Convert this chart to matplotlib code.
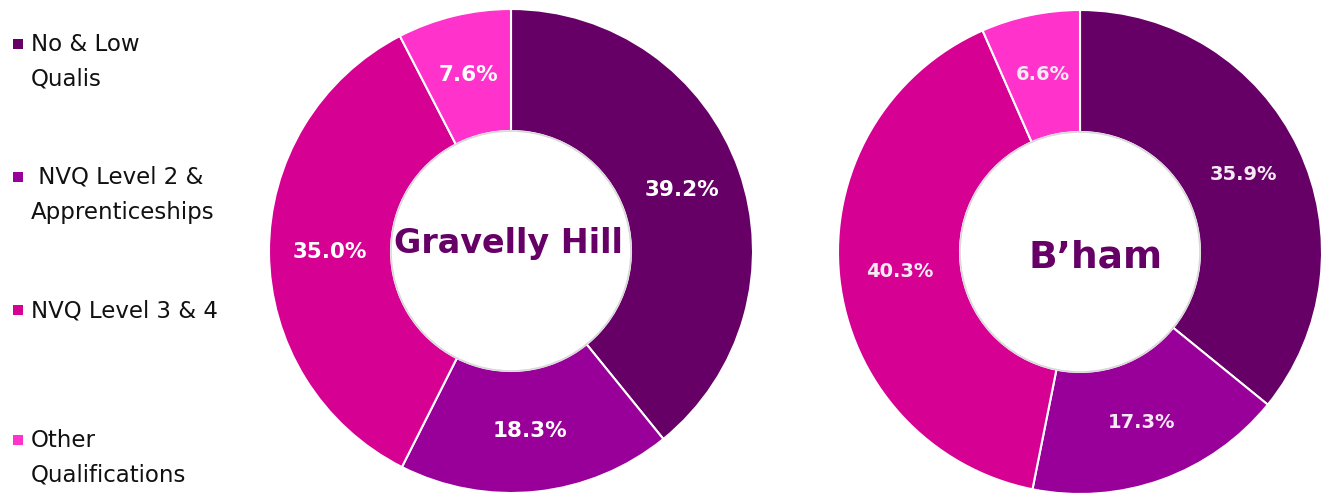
import numpy as np
import matplotlib.pyplot as plt

# data
categories = ['No & Low\nQualis', ' NVQ Level 2 &\nApprenticeships', 'NVQ Level 3 & 4', 'Other\nQualifications']
gravelly = [39.2, 18.3, 35.0, 7.6]
bham = [35.9, 17.3, 40.3, 6.6]
colors = ['#660066', '#990099', '#D60093', '#FF33CC']

W, H = 1324, 497
fig = plt.figure(figsize=(W / 100, H / 100), dpi=100)
ax = fig.add_axes([0, 0, 1, 1])
ax.axis('off')

r_out = 242
r_in = 120


def donut(vals, cx, cy, title, tx, ty, title_size, lab_size, lab_color):
    ax.pie(vals, colors=colors, startangle=90, counterclock=False,
           center=(cx, H - cy), radius=r_out, frame=True,
           wedgeprops=dict(width=r_out - r_in, edgecolor='white', linewidth=1.5))
    # percent labels
    ang = 90 - 360 * (np.cumsum(vals) - np.array(vals) / 2) / sum(vals)
    rl = r_out * 0.75
    for a, v in zip(ang, vals):
        x = cx + rl * np.cos(np.radians(a))
        y = H - cy + rl * np.sin(np.radians(a))
        ax.text(x, y, f'{v:.1f}%', ha='center', va='center', color=lab_color,
                fontsize=lab_size, fontweight='bold')
    inner = plt.Circle((cx, H - cy), r_in, facecolor='white', edgecolor='#d8d8d8', linewidth=1.2)
    ax.add_patch(inner)
    ax.text(tx, H - ty, title, ha='center', va='center', color='#660066',
            fontsize=title_size, fontweight='bold')


donut(gravelly, 511, 251, 'Gravelly Hill', 508, 243, 24, 15.5, 'white')
donut(bham, 1080, 252, 'B’ham', 1096, 257, 27, 14, '#f4eaf4')

ax.set_xlim(0, W)
ax.set_ylim(0, H)
ax.set_aspect('equal')

# legend
leg_y = [44, 177, 310, 440]
for lab, c, y in zip(categories, colors, leg_y):
    ax.scatter([18], [H - y], marker='s', s=55, color=c, edgecolors='none')
    ax.text(31, H - y + 11, lab, ha='left', va='top', fontsize=16.5,
            color='#111111', linespacing=1.65)

fig.savefig('out.png', dpi=100)
